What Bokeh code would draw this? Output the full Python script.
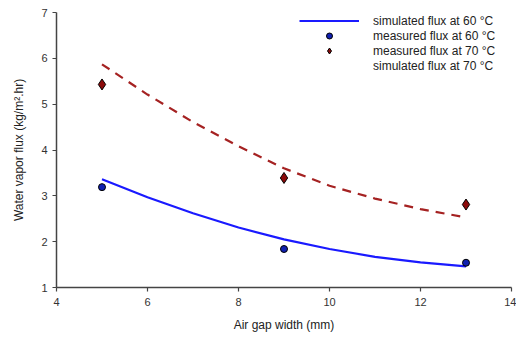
from bokeh.plotting import figure
from bokeh.models import Legend, LegendItem, Range1d, FixedTicker
from bokeh.embed import file_html
from bokeh.resources import INLINE

# Data
gap_measured = [5, 9, 13]
meas_60 = [3.19, 1.84, 1.54]
meas_70 = [5.43, 3.39, 2.81]

gap_sim = [5, 6, 7, 8, 9, 10, 11, 12, 13]
sim_60 = [3.36, 2.97, 2.62, 2.31, 2.05, 1.84, 1.67, 1.55, 1.46]
sim_70 = [5.87, 5.21, 4.61, 4.08, 3.60, 3.22, 2.94, 2.71, 2.53]

x_ticks = [4, 6, 8, 10, 12, 14]
y_ticks = [1, 2, 3, 4, 5, 6, 7]

FONT = "Liberation Sans"

p = figure(width=516, height=336, output_backend="svg", toolbar_location=None,
           x_range=Range1d(4, 14), y_range=Range1d(1, 7),
           min_border_left=56, min_border_right=5, min_border_top=12, min_border_bottom=49)
p.outline_line_color = None
p.xgrid.visible = False
p.ygrid.visible = False
p.background_fill_color = "white"

for ax in (p.xaxis[0], p.yaxis[0]):
    ax.axis_line_color = "#444444"
    ax.axis_line_width = 1.5
    ax.major_tick_line_color = "#444444"
    ax.major_tick_line_width = 1.2
    ax.major_tick_out = 4
    ax.major_tick_in = 0
    ax.minor_tick_line_color = None
    ax.major_label_text_font = FONT
    ax.major_label_text_font_size = "11px"
    ax.major_label_text_color = "#333333"
    ax.axis_label_text_font = FONT
    ax.axis_label_text_font_size = "12px"
    ax.axis_label_text_font_style = "normal"
    ax.axis_label_text_color = "#222222"

p.xaxis.ticker = FixedTicker(ticks=x_ticks)
p.yaxis.ticker = FixedTicker(ticks=y_ticks)
p.xaxis.axis_label = "Air gap width (mm)"
p.yaxis.axis_label = "Water vapor flux (kg/m\u00b2.hr)"
p.xaxis.major_label_standoff = 6
p.xaxis.axis_label_standoff = 9
p.yaxis.major_label_standoff = 5
p.yaxis.axis_label_standoff = 12

r_sim60 = p.line(gap_sim, sim_60, line_color="#1a1aff", line_width=2.2)
r_sim70 = p.line(gap_sim, sim_70, line_color="#a52222", line_width=2.2, line_dash="9 7")
r_m60 = p.scatter(gap_measured, meas_60, marker="circle", size=7,
                  fill_color="#1020b0", line_color="black", line_width=1)
r_m70 = p.scatter(gap_measured, meas_70, marker="diamond", size=11,
                  fill_color="#8b0a0a", line_color="black", line_width=1)
r_blank = p.line([], [], line_alpha=0)

legend = Legend(items=[
    LegendItem(label="simulated flux at 60 \u00b0C", renderers=[r_sim60]),
    LegendItem(label="measured flux at 60 \u00b0C", renderers=[r_m60]),
    LegendItem(label="measured flux at 70 \u00b0C", renderers=[r_m70]),
    LegendItem(label="simulated flux at 70 \u00b0C", renderers=[r_blank]),
], location=(243, 214))
legend.padding = 0
legend.margin = 0
legend.spacing = 0
legend.glyph_width = 60
legend.glyph_height = 15
legend.label_standoff = 14
legend.label_height = 15
legend.label_text_font = FONT
legend.label_text_font_size = "12px"
legend.label_text_color = "#222222"
legend.border_line_alpha = 0
legend.background_fill_alpha = 0
p.add_layout(legend, "center")

open("out.html", "w").write(file_html(p, INLINE))
